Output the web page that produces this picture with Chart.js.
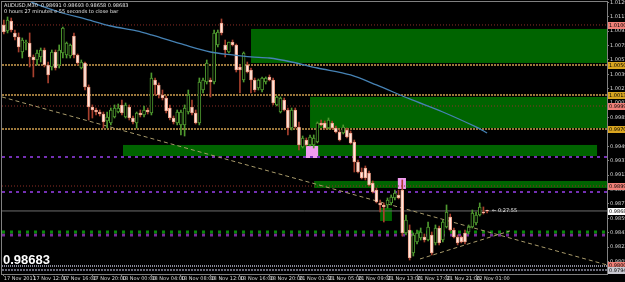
<!DOCTYPE html>
<html>
<head>
<meta charset="utf-8">
<script src="https://cdn.jsdelivr.net/npm/chart.js@4.4.0/dist/chart.umd.min.js"></script>
<style>
html, body { margin: 0; padding: 0; background: #000; }
#wrap { width: 625px; height: 282px; position: relative; }
</style>
</head>
<body>
<div id="wrap"><canvas id="chart"></canvas></div>
<script>
// AUDUSD M30 candles, bar index 0 = 17 Nov 2011 08:00
var opens = [
  1.01008, 1.00933, 1.01058, 1.00908, 1.00858, 1.00670, 1.00783, 1.00783, 1.00608, 1.00570,
  1.00608, 1.00695, 1.00508, 1.00483, 1.00670, 1.00508, 1.00658, 1.00633, 1.00620, 1.00870,
  1.00633, 1.00470, 1.00533, 1.00233, 0.99983, 0.99945, 0.99920, 0.99895, 0.99808, 0.99783,
  0.99858, 0.99920, 1.00008, 0.99858, 0.99983, 0.99845, 0.99783, 0.99908, 0.99883, 0.99945,
  0.99908, 1.00320, 1.00258, 1.00133, 1.00095, 0.99970, 0.99845, 0.99783, 0.99758, 0.99758,
  0.99920, 0.99983, 0.99908, 0.99783, 1.00195, 1.00295, 1.00320, 1.00295, 1.00758, 1.01033,
  1.00758, 1.00670, 1.00795, 1.00758, 1.00483, 1.00320, 1.00508, 1.00445, 1.00320, 1.00220,
  1.00195, 1.00295, 1.00358, 1.00320, 1.00008, 0.99920, 1.00070, 0.99945, 0.99720, 0.99945,
  0.99733, 0.99483, 0.99570, 0.99508, 0.99508, 0.99545, 0.99783, 0.99783, 0.99720, 0.99783,
  0.99720, 0.99670, 0.99658, 0.99695, 0.99658, 0.99545, 0.99295, 0.99170, 0.99220, 0.99158,
  0.99033, 0.98945, 0.98783, 0.98758, 0.98758, 0.98783, 0.98845, 0.98883, 0.98945, 0.98408,
  0.98445, 0.98158, 0.98295, 0.98345, 0.98358, 0.98320, 0.98383, 0.98283, 0.98470, 0.98320,
  0.98483, 0.98608, 0.98445, 0.98358, 0.98358, 0.98408, 0.98420, 0.98483, 0.98533, 0.98633,
  0.98670, 0.98691
];
var highs = [
  1.01070, 1.01108, 1.01095, 1.00945, 1.00908, 1.00845, 1.00820, 1.00908, 1.00633, 1.00695,
  1.00720, 1.00720, 1.00545, 1.00695, 1.00695, 1.00758, 1.00983, 1.00795, 1.00770, 1.00908,
  1.00645, 1.00570, 1.00545, 1.00258, 1.00008, 0.99970, 0.99945, 0.99920, 0.99920, 0.99970,
  1.00008, 1.00020, 1.00070, 1.00033, 1.00008, 0.99870, 0.99920, 0.99945, 0.99995, 0.99970,
  1.00408, 1.00345, 1.00283, 1.00195, 1.00120, 1.00008, 0.99870, 0.99945, 0.99945, 1.00008,
  1.00195, 1.00070, 0.99945, 1.00345, 1.00345, 1.00570, 1.00345, 1.00945, 1.00945, 1.01083,
  1.00820, 1.00795, 1.00820, 1.00770, 1.00508, 1.00670, 1.00545, 1.00470, 1.00345, 1.00333,
  1.00358, 1.00358, 1.00383, 1.00345, 1.00120, 1.00108, 1.00095, 0.99970, 0.99970, 0.99970,
  0.99795, 0.99620, 0.99595, 0.99633, 0.99633, 0.99795, 0.99820, 0.99808, 0.99845, 0.99808,
  0.99745, 0.99695, 0.99758, 0.99720, 0.99683, 0.99570, 0.99320, 0.99220, 0.99245, 0.99183,
  0.99058, 0.98970, 0.98820, 0.98783, 0.98845, 0.98883, 0.98945, 0.98945, 0.99070, 0.98633,
  0.98508, 0.98408, 0.98445, 0.98470, 0.98395, 0.98545, 0.98420, 0.98508, 0.98495, 0.98570,
  0.98758, 0.98645, 0.98470, 0.98383, 0.98370, 0.98445, 0.98508, 0.98695, 0.98670, 0.98783,
  0.98733, 0.98693
];
var lows = [
  1.00895, 1.00908, 1.00920, 1.00820, 1.00670, 1.00595, 1.00695, 1.00483, 1.00358, 1.00508,
  1.00545, 1.00483, 1.00283, 1.00445, 1.00445, 1.00470, 1.00595, 1.00595, 1.00595, 1.00595,
  1.00508, 1.00458, 1.00195, 0.99820, 0.99845, 0.99883, 0.99870, 0.99720, 0.99720, 0.99758,
  0.99845, 0.99908, 0.99883, 0.99845, 0.99820, 0.99770, 0.99720, 0.99858, 0.99858, 0.99895,
  0.99883, 1.00133, 1.00095, 1.00070, 0.99908, 0.99820, 0.99770, 0.99758, 0.99633, 0.99620,
  0.99895, 0.99883, 0.99770, 0.99758, 1.00158, 1.00270, 1.00108, 1.00270, 1.00733, 1.00883,
  1.00608, 1.00658, 1.00745, 1.00420, 1.00158, 1.00295, 1.00408, 1.00158, 1.00170, 1.00195,
  1.00170, 1.00270, 1.00308, 1.00008, 0.99995, 0.99908, 0.99933, 0.99633, 0.99695, 0.99720,
  0.99445, 0.99470, 0.99495, 0.99495, 0.99470, 0.99533, 0.99745, 0.99708, 0.99708, 0.99708,
  0.99658, 0.99558, 0.99645, 0.99595, 0.99520, 0.99170, 0.99158, 0.99083, 0.99070, 0.98995,
  0.98908, 0.98783, 0.98670, 0.98545, 0.98720, 0.98758, 0.98820, 0.98833, 0.98370, 0.98383,
  0.98070, 0.98120, 0.98270, 0.98320, 0.98295, 0.98308, 0.98133, 0.98258, 0.98258, 0.98295,
  0.98470, 0.98433, 0.98345, 0.98258, 0.98283, 0.98270, 0.98395, 0.98470, 0.98508, 0.98620,
  0.98645, 0.98658
];
var closes = [
  1.00920, 1.01070, 1.00945, 1.00858, 1.00733, 1.00820, 1.00795, 1.00608, 1.00570, 1.00658,
  1.00695, 1.00508, 1.00383, 1.00670, 1.00470, 1.00695, 1.00970, 1.00783, 1.00758, 1.00633,
  1.00533, 1.00545, 1.00233, 0.99983, 0.99945, 0.99920, 0.99895, 0.99795, 0.99858, 0.99945,
  0.99970, 0.99970, 0.99908, 1.00008, 0.99845, 0.99795, 0.99908, 0.99883, 0.99945, 0.99920,
  1.00345, 1.00258, 1.00133, 1.00095, 0.99933, 0.99845, 0.99795, 0.99920, 0.99920, 0.99970,
  1.00133, 0.99908, 0.99783, 1.00295, 1.00320, 1.00533, 1.00295, 1.00908, 1.00920, 1.00908,
  1.00695, 1.00795, 1.00758, 1.00445, 1.00445, 1.00658, 1.00420, 1.00320, 1.00195, 1.00320,
  1.00345, 1.00345, 1.00320, 1.00033, 1.00108, 1.00095, 0.99945, 0.99720, 0.99945, 0.99733,
  0.99508, 0.99595, 0.99508, 0.99608, 0.99595, 0.99783, 0.99758, 0.99720, 0.99820, 0.99720,
  0.99670, 0.99570, 0.99733, 0.99608, 0.99533, 0.99295, 0.99170, 0.99095, 0.99095, 0.99008,
  0.98920, 0.98795, 0.98758, 0.98733, 0.98820, 0.98858, 0.98908, 0.98845, 0.98408, 0.98570,
  0.98095, 0.98383, 0.98408, 0.98420, 0.98320, 0.98483, 0.98158, 0.98470, 0.98283, 0.98545,
  0.98670, 0.98445, 0.98358, 0.98283, 0.98295, 0.98295, 0.98483, 0.98658, 0.98633, 0.98733,
  0.98658, 0.98683
];

// moving average, [bar index, price]
var maPoints = [
  [5, 1.01370], [8, 1.01283], [15, 1.01170], [22, 1.01083], [29, 1.00995], [36, 1.00933],
  [40, 1.00883], [49, 1.00758], [56, 1.00670], [62, 1.00633], [67, 1.00608], [72, 1.00595],
  [78, 1.00545], [85, 1.00470], [94, 1.00383], [101, 1.00258], [110, 1.00083], [119, 0.99920],
  [128, 0.99733], [131, 0.99658]
];

var timeLabels = ['17 Nov 2011', '17 Nov 12:00', '17 Nov 16:00', '17 Nov 20:00', '18 Nov 00:00',
  '18 Nov 04:00', '18 Nov 08:00', '18 Nov 12:00', '18 Nov 16:00', '18 Nov 20:00', '21 Nov 01:00',
  '21 Nov 05:00', '21 Nov 09:00', '21 Nov 13:00', '21 Nov 17:00', '21 Nov 21:00', '22 Nov 01:00'];

var priceTicks = [1.01290, 1.01110, 1.00930, 1.00750, 1.00570, 1.00390, 1.00210, 1.00030, 0.99850,
  0.99670, 0.99490, 0.99310, 0.99130, 0.98950, 0.98770, 0.98590, 0.98410, 0.98230, 0.98050];

var redLevels = [1.01008, 0.99995, 0.98995];
var goldLevels = [1.00508, 1.00133, 0.99708];
var purpleLevels = [0.99358, 0.98920];
var bidPrice = 0.98683;
var greenDashLevel = 0.98420;
var purpleDashLevel = 0.98383;
var bottomStrip = [0.97995, 0.97945];

// rectangles: [from bar, to bar, top price, bottom price]
var greenZones = [
  [67, 163.5, 1.00958, 1.00533],
  [83, 163.5, 1.00108, 0.99720],
  [32.3, 160.8, 0.99508, 0.99370],
  [84.1, 163.5, 0.99058, 0.98970],
  [102, 105.2, 0.98720, 0.98558]
];
var pinkZones = [
  [81.9, 85.2, 0.99495, 0.99345],
  [106.8, 109.0, 0.99095, 0.98958]
];

var trendA = [[-0.5, 1.00108], [163.5, 0.98008]];
var trendB = [[112.8, 0.98083], [137.2, 0.98433]];

var BULL = '#4f9a2f', BEAR_FILL = '#ffe6dc', BEAR_LINE = '#eea088', BEAR_WICK = '#a8402e';

function isBull(i) { return closes[i] >= opens[i]; }

function hline(p, color, dash, width) {
  return {
    type: 'line',
    data: [{x: -0.5, y: p}, {x: 163.5, y: p}],
    borderColor: color, borderDash: dash, borderWidth: width || 1,
    pointRadius: 0, order: 5
  };
}

var datasets = [];
datasets.push({
  type: 'bar',
  data: lows.map(function (l, i) { return {x: i, y: [l, highs[i]]}; }),
  backgroundColor: lows.map(function (l, i) { return isBull(i) ? BULL : BEAR_WICK; }),
  barThickness: 1, grouped: false, order: 2
});
datasets.push({
  type: 'bar',
  data: opens.map(function (o, i) { return {x: i, y: [o, closes[i]]}; }),
  backgroundColor: opens.map(function (o, i) { return isBull(i) ? '#000000' : BEAR_FILL; }),
  borderColor: opens.map(function (o, i) { return isBull(i) ? BULL : BEAR_LINE; }),
  borderWidth: 1, borderSkipped: false, barThickness: 3, grouped: false, order: 1
});
datasets.push({
  type: 'line',
  data: maPoints.map(function (p) { return {x: p[0], y: p[1]}; }),
  borderColor: '#4682b4', borderWidth: 1.3, pointRadius: 0, tension: 0.3, order: 0
});
redLevels.forEach(function (p) { datasets.push(hline(p, '#8e2e26', [1, 2])); });
goldLevels.forEach(function (p) { datasets.push(hline(p, '#d0a050', [2, 1], 1.5)); });
purpleLevels.forEach(function (p) { datasets.push(hline(p, '#7430b4', [3, 4], 2)); });
datasets.push(hline(bidPrice, '#6e6e6e', [], 1));
datasets.push(hline(greenDashLevel, '#0a8a0a', [3, 5], 3));
datasets.push(hline(purpleDashLevel, '#7a2a9a', [3, 5], 3));
datasets.push(hline(bottomStrip[0], '#8a8a9a', [1, 1], 2));
datasets.push(hline(bottomStrip[1], '#6a6a7a', [2, 1], 2));
[trendA, trendB].forEach(function (t) {
  datasets.push({
    type: 'line',
    data: t.map(function (p) { return {x: p[0], y: p[1]}; }),
    borderColor: '#a89a6a', borderDash: [4, 3], borderWidth: 1, pointRadius: 0, order: 4
  });
});

var decor = {
  id: 'decor',
  beforeDraw: function (chart) {
    var c = chart.ctx;
    c.save();
    c.fillStyle = '#000000';
    c.fillRect(0, 0, chart.width, chart.height);
    c.restore();
  },
  beforeDatasetsDraw: function (chart) {
    var c = chart.ctx, xs = chart.scales.x, ys = chart.scales.y, a = chart.chartArea;
    c.save();
    c.beginPath();
    c.rect(a.left, a.top, a.right - a.left, a.bottom - a.top);
    c.clip();
    function box(z, color) {
      var x1 = xs.getPixelForValue(z[0]), x2 = xs.getPixelForValue(z[1]);
      var y1 = ys.getPixelForValue(z[2]), y2 = ys.getPixelForValue(z[3]);
      c.fillStyle = color;
      c.fillRect(x1, y1, x2 - x1, y2 - y1);
    }
    greenZones.forEach(function (z) { box(z, '#006400'); });
    pinkZones.forEach(function (z) { box(z, '#f09cf0'); });
    c.restore();
  },
  afterDraw: function (chart) {
    var c = chart.ctx, xs = chart.scales.x, ys = chart.scales.y, a = chart.chartArea;
    c.save();
    // frame
    c.strokeStyle = '#808080';
    c.lineWidth = 1;
    c.strokeRect(a.left - 0.5, a.top - 0.5, a.right - a.left + 1, a.bottom - a.top + 1);
    // price labels of the lines on the axis
    var tags = [];
    redLevels.forEach(function (p) { tags.push([p, '#f08078']); });
    goldLevels.forEach(function (p) { tags.push([p, '#daa520']); });
    tags.push([bidPrice, '#ffffff']);
    tags.push([trendA[1][1], '#f08078']);
    tags.push([bottomStrip[1], '#c8c8d0']);
    c.font = '5px "DejaVu Sans"';
    c.textBaseline = 'middle';
    tags.forEach(function (t) {
      var y = Math.round(ys.getPixelForValue(t[0]));
      c.fillStyle = t[1];
      c.fillRect(a.right + 1, y - 3, 17, 7);
      c.fillStyle = '#000000';
      c.fillText(t[0].toFixed(5), a.right + 2, y + 0.5);
    });
    // header text
    var n = closes.length - 1;
    c.fillStyle = '#e8e8e8';
    c.textBaseline = 'top';
    c.fillText('AUDUSD,M30  ' + opens[n].toFixed(5) + ' ' + highs[n].toFixed(5) + ' ' +
      lows[n].toFixed(5) + ' ' + closes[n].toFixed(5), a.left + 2, a.top + 1);
    c.fillText('0 hours 27 minutes e 55 seconds to close bar', a.left + 2, a.top + 7);
    // time left to bar close, next to the last bar
    c.textBaseline = 'middle';
    c.fillText('\u2190 0:27:55', xs.getPixelForValue(n) + 5, ys.getPixelForValue(bidPrice));
    // big price
    c.font = 'bold 13px "Liberation Sans"';
    c.fillStyle = '#ffffff';
    c.textBaseline = 'alphabetic';
    c.fillText(closes[n].toFixed(5), a.left + 1, a.bottom - 10);
    c.restore();
  }
};

new Chart(document.getElementById('chart'), {
  type: 'bar',
  data: {datasets: datasets},
  options: {
    responsive: true,
    maintainAspectRatio: false,
    animation: false,
    layout: {padding: {left: 2, top: 2, right: 0, bottom: 0}},
    plugins: {legend: {display: false}, tooltip: {enabled: false}},
    scales: {
      x: {
        type: 'linear', min: -0.5, max: 163.5, offset: false,
        afterBuildTicks: function (s) { s.ticks = timeLabels.map(function (t, i) { return {value: i * 8}; }); },
        afterFit: function (s) { s.height = 8; s.paddingLeft = 0; s.paddingRight = 0; },
        ticks: {
          color: '#d8d8d8', font: {family: 'DejaVu Sans', size: 5}, maxRotation: 0, autoSkip: false,
          align: 'start', padding: 0,
          callback: function (v) { return timeLabels[Math.round(v / 8)] || ''; }
        },
        grid: {drawOnChartArea: false, offset: false, color: '#808080', tickLength: 2},
        border: {color: '#808080'}
      },
      y: {
        position: 'right', min: 0.97895, max: 1.01295,
        afterBuildTicks: function (s) { s.ticks = priceTicks.map(function (v) { return {value: v}; }); },
        afterFit: function (s) { s.width = 18; s.paddingTop = 0; s.paddingBottom = 0; },
        ticks: {
          color: '#d8d8d8', font: {family: 'DejaVu Sans', size: 5}, padding: 1,
          callback: function (v) { return v.toFixed(5); }
        },
        grid: {drawOnChartArea: false, color: '#808080', tickLength: 2},
        border: {color: '#808080'}
      }
    }
  },
  plugins: [decor]
});
</script>
</body>
</html>
